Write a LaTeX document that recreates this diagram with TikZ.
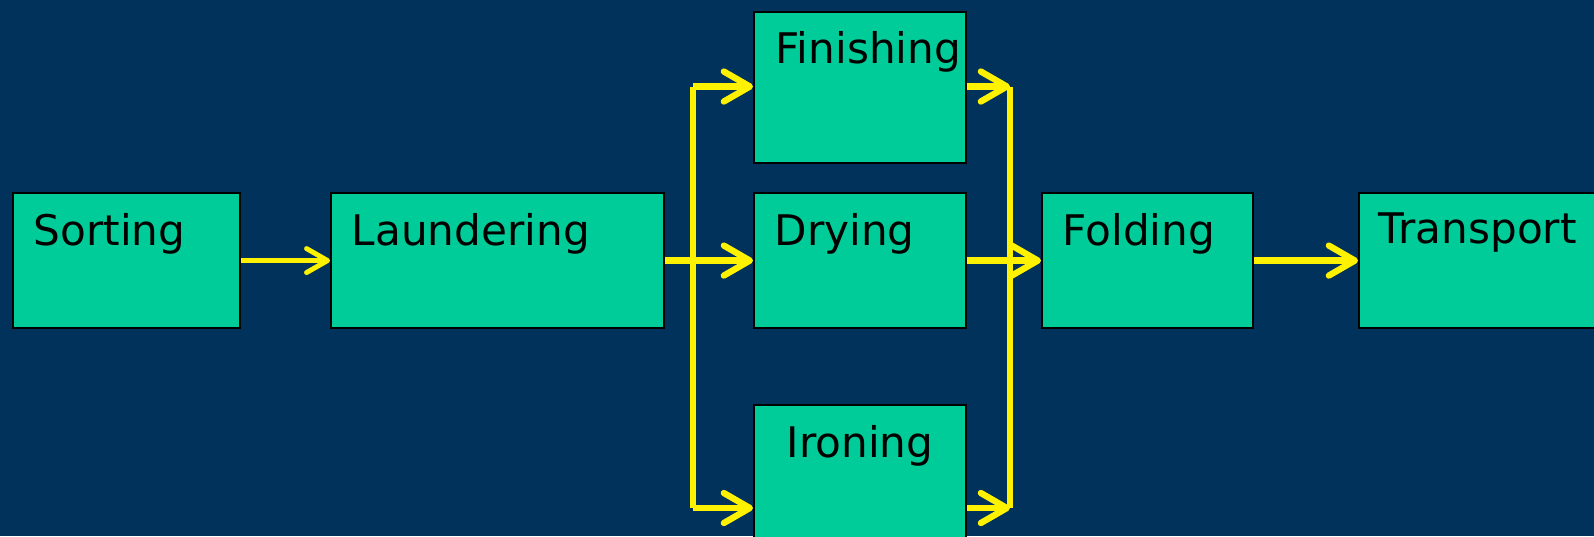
\documentclass[tikz,border=0pt]{standalone}
\usepackage{fontspec}
\setmainfont{DejaVu Sans}
\usepackage{xcolor}
\usetikzlibrary{positioning,arrows.meta}
\definecolor{navy}{RGB}{0,50,92}
\definecolor{stagegreen}{RGB}{0,204,153}
\tikzset{
    stage/.style={draw=black, line width=0.6pt, fill=stagegreen, rectangle,
        anchor=north west, inner sep=0pt, minimum height=1.35cm},
    stagetext/.style={font=\fontsize{12}{14}\selectfont, inner sep=0pt, text=black},
    flow/.style={draw=yellow, line width=1.8pt,
        -{Straight Barb[length=2.6mm,width=3mm,round]}},
    thinflow/.style={draw=yellow, line width=1.4pt,
        -{Straight Barb[length=2.1mm,width=2.4mm,round]}},
    rail/.style={draw=yellow, line width=1.8pt}
}

\begin{document}
\begin{tikzpicture}
    \fill[navy] (0,0) rectangle (15.94,-5.36);
    \useasboundingbox (0,0) rectangle (15.94,-5.36);
    \clip (0,0) rectangle (15.94,-5.36);
    % stages
    \node[stage, minimum width=2.27cm,
        label={[stagetext, anchor=base west, xshift=0.21cm, yshift=-0.53cm]north west:Sorting}]
        (sort) at (0.12,-1.92) {};
    \node[stage, minimum width=3.33cm,
        label={[stagetext, anchor=base west, xshift=0.21cm, yshift=-0.53cm]north west:Laundering}]
        (laund) at (3.30,-1.92) {};
    \node[stage, minimum width=2.12cm, minimum height=1.51cm,
        label={[stagetext, anchor=base west, xshift=0.22cm, yshift=-0.52cm]north west:Finishing}]
        (fin) at (7.53,-0.11) {};
    \node[stage, minimum width=2.12cm,
        label={[stagetext, anchor=base west, xshift=0.21cm, yshift=-0.53cm]north west:Drying}]
        (dry) at (7.53,-1.92) {};
    \node[stage, minimum width=2.12cm, minimum height=1.6cm,
        label={[stagetext, anchor=base, yshift=-0.53cm]north:Ironing}]
        (iron) at (7.53,-4.04) {};
    \node[stage, minimum width=2.11cm,
        label={[stagetext, anchor=base west, xshift=0.21cm, yshift=-0.53cm]north west:Folding}]
        (fold) at (10.41,-1.92) {};
    \node[stage, minimum width=2.6cm,
        label={[stagetext, anchor=base west, xshift=0.20cm, yshift=-0.51cm]north west:Transport}]
        (trans) at (13.58,-1.92) {};
    % split and merge rails
    \coordinate (splitT) at (6.93,-0.865);
    \coordinate (splitB) at (6.93,-5.08);
    \coordinate (mergeT) at (10.10,-0.865);
    \coordinate (mergeB) at (10.10,-5.08);
    \draw[rail] (splitT) -- (splitB);
    \draw[rail] (mergeT) -- (mergeB);
    % flows
    \draw[thinflow] (sort) -- (laund);
    \draw[flow] (laund) -- (dry);
    \draw[flow] (splitT) -- (splitT -| fin.west);
    \draw[flow] (splitB) -- (iron.west |- splitB);
    \draw[flow] (fin.east |- mergeT) -- (mergeT);
    \draw[flow] (dry) -- (fold);
    \draw[flow] (iron.east |- mergeB) -- (mergeB);
    \draw[flow] (fold) -- (trans);
\end{tikzpicture}
\end{document}
